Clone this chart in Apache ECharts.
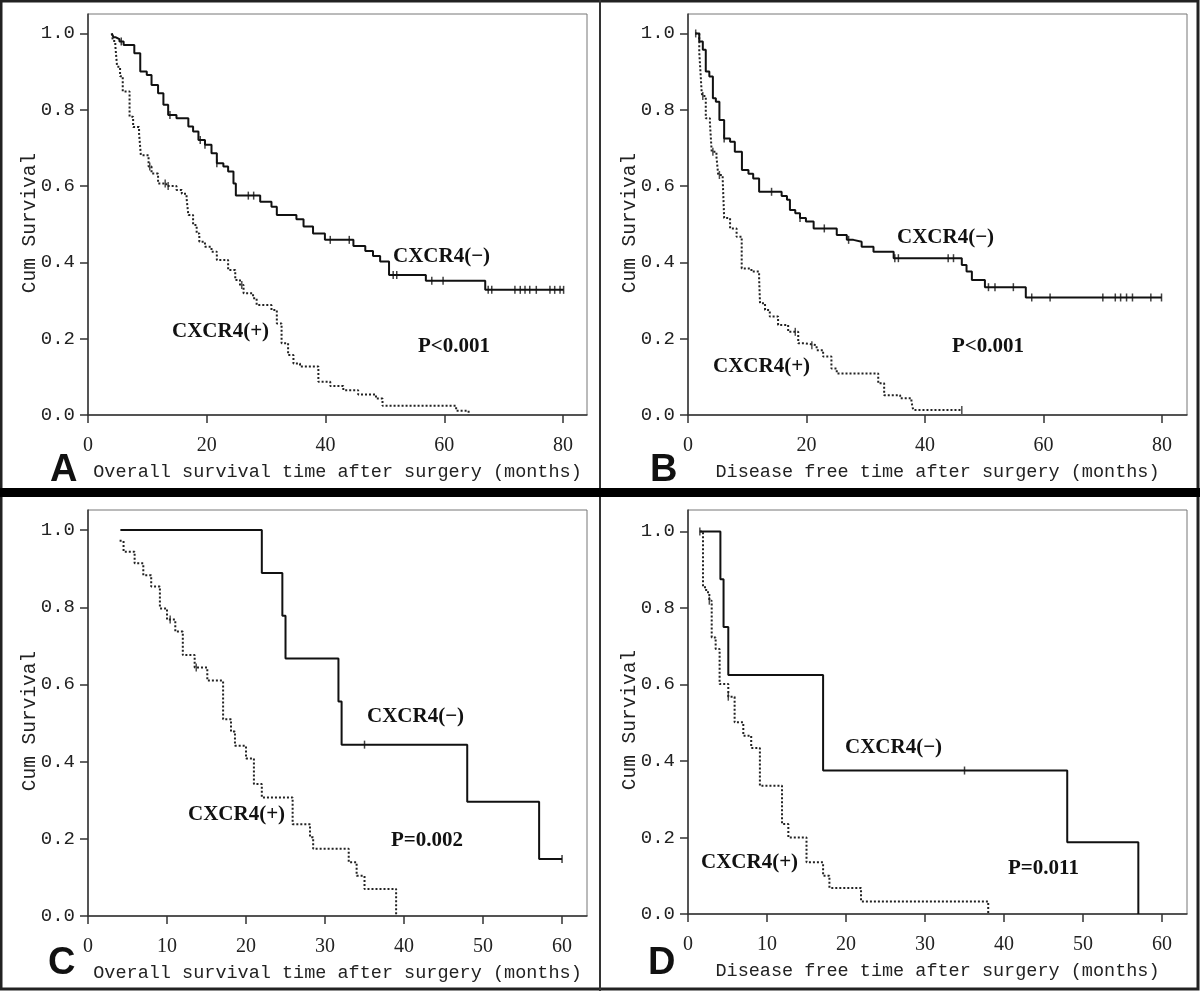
<!DOCTYPE html>
<html>
<head>
<meta charset="utf-8">
<script src="https://cdn.jsdelivr.net/npm/echarts@6/dist/echarts.min.js"></script>
<style>
html,body{margin:0;padding:0;background:#fff;}
#chart{width:1200px;height:991px;}
</style>
</head>
<body>
<div id="chart"></div>
<script>
// tick labels
var xTicksAB = [0, 20, 40, 60, 80];
var xTicksCD = [0, 10, 20, 30, 40, 50, 60];
var yTicks = [0, 0.2, 0.4, 0.6, 0.8, 1.0];

// A: overall survival, all patients
var timesA_neg = [4.0, 4.3, 4.7, 5.3, 6.0, 7.8, 8.8, 9.9, 10.7, 11.8, 12.7, 13.5, 14.9, 16.9, 17.7, 18.6, 19.7, 20.8, 21.7, 22.8, 23.6, 24.5, 24.9, 29.0, 30.9, 31.8, 35.1, 36.3, 37.9, 39.9, 44.7, 46.7, 48.0, 49.2, 50.7, 56.9, 66.9, 80.1];
var survA_neg = [1.0, 0.99, 0.985, 0.979, 0.97, 0.948, 0.90, 0.891, 0.865, 0.843, 0.813, 0.786, 0.778, 0.756, 0.743, 0.721, 0.708, 0.686, 0.660, 0.651, 0.638, 0.607, 0.575, 0.559, 0.546, 0.524, 0.513, 0.494, 0.476, 0.459, 0.443, 0.430, 0.417, 0.402, 0.367, 0.352, 0.328, 0.328];
var censA_neg = [5.6, 13.8, 18.9, 19.7, 21.7, 27.0, 27.9, 40.8, 44.0, 51.4, 52.0, 57.9, 59.8, 67.4, 68.0, 71.9, 72.8, 73.6, 74.4, 75.5, 77.8, 78.6, 79.5, 80.1];
var timesA_pos = [4.0, 4.2, 4.6, 4.9, 5.4, 5.85, 7.0, 7.6, 8.6, 8.9, 10.2, 10.7, 11.8, 13.2, 14.9, 15.8, 16.6, 16.9, 17.7, 18.3, 18.75, 19.7, 20.8, 21.7, 23.6, 24.8, 25.6, 26.2, 27.8, 28.4, 30.9, 31.8, 32.6, 33.7, 34.6, 35.7, 38.8, 40.8, 43.0, 45.5, 48.5, 49.6, 62.0, 64.1];
var survA_pos = [1.0, 0.98, 0.968, 0.913, 0.888, 0.848, 0.782, 0.755, 0.738, 0.681, 0.651, 0.633, 0.607, 0.600, 0.590, 0.580, 0.568, 0.524, 0.498, 0.476, 0.454, 0.441, 0.428, 0.406, 0.380, 0.354, 0.341, 0.319, 0.306, 0.288, 0.275, 0.240, 0.188, 0.157, 0.135, 0.127, 0.087, 0.076, 0.065, 0.054, 0.043, 0.024, 0.011, 0.0];
var censA_pos = [10.4, 13.0, 13.5, 25.9];

// B: disease free, all patients
var timesB_neg = [1.2, 1.9, 2.5, 3.0, 3.6, 4.2, 4.7, 5.3, 6.1, 7.1, 7.9, 9.1, 10.2, 11.0, 12.0, 15.8, 16.7, 17.2, 18.1, 18.9, 19.9, 21.2, 25.1, 26.8, 27.9, 29.3, 31.3, 34.7, 46.2, 47.0, 47.9, 50.1, 57.0, 79.9];
var survB_neg = [1.0, 0.979, 0.957, 0.90, 0.887, 0.83, 0.821, 0.773, 0.725, 0.716, 0.69, 0.642, 0.632, 0.620, 0.585, 0.574, 0.564, 0.537, 0.529, 0.516, 0.507, 0.489, 0.472, 0.459, 0.454, 0.441, 0.428, 0.411, 0.393, 0.376, 0.354, 0.335, 0.308, 0.308];
var censB_neg = [6.1, 14.1, 18.9, 23.0, 27.1, 34.9, 35.5, 43.9, 44.8, 50.7, 51.8, 54.9, 58.0, 61.1, 70.0, 72.1, 73.0, 74.0, 75.0, 78.1, 79.9];
var timesB_pos = [1.2, 1.9, 2.1, 2.3, 2.4, 3.0, 3.7, 4.0, 4.8, 5.1, 5.85, 6.1, 7.1, 8.2, 9.06, 10.7, 12.0, 12.15, 13.0, 13.8, 15.2, 16.9, 18.6, 19.7, 21.7, 22.8, 24.2, 25.1, 32.1, 33.1, 35.8, 37.7, 38.0, 46.2];
var survB_pos = [1.0, 0.95, 0.90, 0.848, 0.836, 0.778, 0.765, 0.69, 0.677, 0.629, 0.620, 0.516, 0.489, 0.467, 0.384, 0.376, 0.358, 0.293, 0.275, 0.258, 0.236, 0.218, 0.188, 0.183, 0.170, 0.153, 0.122, 0.109, 0.083, 0.052, 0.044, 0.035, 0.013, 0.013];
var censB_pos = [1.3, 2.5, 4.2, 5.3, 18.1, 20.9, 46.2];

// C: overall survival, subgroup
var timesC_neg = [4.1, 22.0, 24.6, 25.0, 31.7, 32.1, 48.0, 57.1, 60.0];
var survC_neg = [1.0, 0.889, 0.778, 0.667, 0.556, 0.444, 0.296, 0.148, 0.148];
var censC_neg = [35.0, 60.0];
var timesC_pos = [4.0, 4.5, 5.9, 7.0, 8.0, 9.1, 10.0, 11.05, 12.0, 13.5, 15.1, 17.1, 18.1, 18.6, 20.0, 21.0, 22.0, 25.9, 28.1, 28.5, 33.0, 34.0, 35.0, 39.0];
var survC_pos = [0.972, 0.944, 0.914, 0.883, 0.854, 0.797, 0.768, 0.737, 0.676, 0.644, 0.610, 0.510, 0.478, 0.441, 0.408, 0.342, 0.307, 0.238, 0.204, 0.174, 0.139, 0.104, 0.070, 0.0];
var censC_pos = [10.4, 13.7];

// D: disease free, subgroup
var timesD_neg = [1.5, 4.1, 4.5, 5.1, 17.1, 48.0, 57.0];
var survD_neg = [1.0, 0.875, 0.75, 0.625, 0.375, 0.1875, 0.0];
var censD_neg = [35.0];
var timesD_pos = [1.5, 1.9, 2.3, 2.7, 3.0, 3.5, 4.0, 5.1, 5.9, 7.0, 8.0, 9.1, 11.9, 12.7, 15.0, 17.1, 17.9, 21.9, 38.0];
var survD_pos = [1.0, 0.854, 0.841, 0.819, 0.723, 0.693, 0.601, 0.568, 0.501, 0.466, 0.434, 0.335, 0.235, 0.200, 0.135, 0.100, 0.068, 0.033, 0.0];
var censD_pos = [1.5, 2.7, 5.1];

var chart = echarts.init(document.getElementById('chart'));

var monoFont = '"Liberation Mono", "DejaVu Sans Mono", monospace';
var serifFont = '"Liberation Serif", "DejaVu Serif", serif';

function survAt(times, surv, t) {
    var s = surv[0];
    for (var i = 0; i < times.length; i++) {
        if (times[i] <= t + 1e-9) s = surv[i];
    }
    return s;
}

var panels = [
    {grid: {left: 88, top: 14, width: 499, height: 401}, xMax: 84.04, yMax: 1.051, xTicks: xTicksAB,
     xName: 'Overall survival time after surgery (months)',
     neg: [timesA_neg, survA_neg, censA_neg], pos: [timesA_pos, survA_pos, censA_pos]},
    {grid: {left: 688, top: 14, width: 499, height: 401}, xMax: 84.2, yMax: 1.051, xTicks: xTicksAB,
     xName: 'Disease free time after surgery (months)',
     neg: [timesB_neg, survB_neg, censB_neg], pos: [timesB_pos, survB_pos, censB_pos]},
    {grid: {left: 88, top: 510, width: 499, height: 406}, xMax: 63.16, yMax: 1.052, xTicks: xTicksCD,
     xName: 'Overall survival time after surgery (months)',
     neg: [timesC_neg, survC_neg, censC_neg], pos: [timesC_pos, survC_pos, censC_pos]},
    {grid: {left: 688, top: 510, width: 499, height: 404}, xMax: 63.16, yMax: 1.056, xTicks: xTicksCD,
     xName: 'Disease free time after surgery (months)',
     neg: [timesD_neg, survD_neg, censD_neg], pos: [timesD_pos, survD_pos, censD_pos]}
];

var grids = [], xAxes = [], yAxes = [], series = [];

panels.forEach(function (p, k) {
    grids.push({
        left: p.grid.left, top: p.grid.top, width: p.grid.width, height: p.grid.height,
        show: true, borderColor: '#777', borderWidth: 1, backgroundColor: 'transparent',
        containLabel: false, outerBoundsMode: 'none'
    });
    xAxes.push({
        gridIndex: k, type: 'value', min: 0, max: p.xMax,
        axisLine: {show: true, onZero: false, lineStyle: {color: '#333', width: 1.5}},
        axisTick: {show: true, length: 8, customValues: p.xTicks, lineStyle: {color: '#333', width: 1.5}},
        axisLabel: {customValues: p.xTicks, fontFamily: serifFont, fontSize: 20, color: '#222', margin: 21},
        splitLine: {show: false},
        name: p.xName, nameLocation: 'middle', nameGap: 48,
        nameTextStyle: {fontFamily: monoFont, fontSize: 18.5, color: '#222'}
    });
    yAxes.push({
        gridIndex: k, type: 'value', min: 0, max: p.yMax,
        axisLine: {show: true, onZero: false, lineStyle: {color: '#333', width: 1.5}},
        axisTick: {show: true, length: 8, customValues: yTicks, lineStyle: {color: '#333', width: 1.5}},
        axisLabel: {customValues: yTicks, fontFamily: monoFont, fontSize: 19, color: '#222', margin: 13,
            formatter: function (v) { return v.toFixed(1); }},
        splitLine: {show: false}
    });

    var neg = p.neg, pos = p.pos;
    series.push({
        type: 'line', xAxisIndex: k, yAxisIndex: k, step: 'end', showSymbol: false, symbol: 'none',
        lineStyle: {color: '#111', width: 2}, z: 3,
        data: neg[0].map(function (t, i) { return [t, neg[1][i]]; })
    });
    series.push({
        type: 'line', xAxisIndex: k, yAxisIndex: k, step: 'end', showSymbol: false, symbol: 'none',
        lineStyle: {color: '#222', width: 2, type: [2, 2]}, z: 2,
        data: pos[0].map(function (t, i) { return [t, pos[1][i]]; })
    });
    series.push({
        type: 'scatter', xAxisIndex: k, yAxisIndex: k, symbol: 'rect', symbolSize: [1.5, 8],
        itemStyle: {color: '#111'}, z: 4,
        data: neg[2].map(function (t) { return [t, survAt(neg[0], neg[1], t)]; })
    });
    series.push({
        type: 'scatter', xAxisIndex: k, yAxisIndex: k, symbol: 'rect', symbolSize: [1.5, 8],
        itemStyle: {color: '#222'}, z: 4,
        data: pos[2].map(function (t) { return [t, survAt(pos[0], pos[1], t)]; })
    });
});

var labelFont = 'bold 21px ' + serifFont;
function txt(s, x, y, font) {
    return {type: 'text', x: x, y: y, z: 10,
        style: {text: s, font: font || labelFont, fill: '#111', align: 'left', verticalAlign: 'middle'}};
}
// rotated y-axis titles
function ytitle(x, y) {
    return {type: 'text', x: x, y: y, rotation: Math.PI / 2, z: 10,
        style: {text: 'Cum Survival', font: '19.5px ' + monoFont, fill: '#222', align: 'center', verticalAlign: 'middle'}};
}

var graphics = [
    {type: 'rect', shape: {x: 1, y: 1, width: 1197, height: 988}, style: {fill: 'none', stroke: '#222', lineWidth: 3}, z: 20},
    {type: 'line', shape: {x1: 600, y1: 0, x2: 600, y2: 991}, style: {stroke: '#333', lineWidth: 2}, z: 20},
    {type: 'rect', shape: {x: 0, y: 488, width: 1200, height: 9}, style: {fill: '#000'}, z: 21},
    ytitle(30, 223), ytitle(630, 223), ytitle(30, 721), ytitle(630, 720),
    txt('A', 50, 471, 'bold 38px "Liberation Sans", Arial, sans-serif'),
    txt('B', 650, 471, 'bold 38px "Liberation Sans", Arial, sans-serif'),
    txt('C', 48, 964, 'bold 38px "Liberation Sans", Arial, sans-serif'),
    txt('D', 648, 964, 'bold 38px "Liberation Sans", Arial, sans-serif'),
    txt('CXCR4(\u2212)', 393, 257), txt('CXCR4(+)', 172, 332), txt('P<0.001', 418, 347),
    txt('CXCR4(\u2212)', 897, 238), txt('CXCR4(+)', 713, 367), txt('P<0.001', 952, 347),
    txt('CXCR4(\u2212)', 367, 717), txt('CXCR4(+)', 188, 815), txt('P=0.002', 391, 841),
    txt('CXCR4(\u2212)', 845, 748), txt('CXCR4(+)', 701, 863), txt('P=0.011', 1008, 869)
];

chart.setOption({
    backgroundColor: '#fff',
    animation: false,
    grid: grids,
    xAxis: xAxes,
    yAxis: yAxes,
    series: series,
    graphic: graphics
});
</script>
</body>
</html>
